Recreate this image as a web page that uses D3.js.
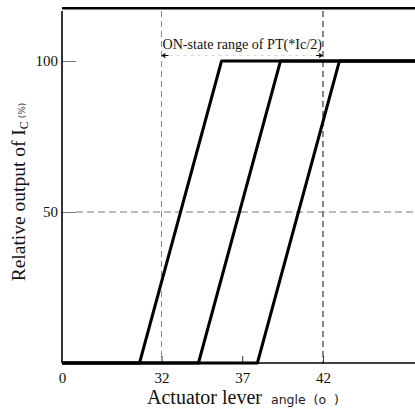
<!DOCTYPE html>
<html><head><meta charset="utf-8">
<script src="https://cdn.jsdelivr.net/npm/d3@7/dist/d3.min.js"></script>
<style>
html,body{margin:0;padding:0;background:#fff;}
svg{display:block;}
text{font-family:"Liberation Serif","Times New Roman",serif;fill:#111;}
</style></head>
<body>
<script>
// ---- data ----
const xDomain = [25.84, 47.7];          // broken axis: left end labelled "0"
const yDomain = [0, 100];
const xTickValues = [25.84, 32, 37, 42];
const xTickLabels = ["0", "32", "37", "42"];
const yTickValues = [50, 100];
const yTickLabels = ["50", "100"];
const refAngles = [32, 42];             // dashed vertical lines
const refOutput = 50;                   // dashed horizontal line

const angleA = [25.84, 30.64, 35.72, 47.7];
const outputA = [0, 0, 100, 100];
const angleB = [25.84, 34.29, 39.37, 47.7];
const outputB = [0, 0, 100, 100];
const angleC = [25.84, 37.94, 43.02, 47.7];
const outputC = [0, 0, 100, 100];

const rangeLabel = "ON-state range of PT(*Ic/2)";

// ---- layout ----
const W = 415, H = 409;
const svg = d3.select("body").append("svg").attr("width", W).attr("height", H);
svg.append("rect").attr("width", W).attr("height", H).attr("fill", "#fff");

const x = d3.scaleLinear().domain(xDomain).range([62, 415]);
const y = d3.scaleLinear().domain(yDomain).range([363, 61]);

// top frame line
svg.append("line").attr("x1", 62).attr("x2", 415).attr("y1", 8.3).attr("y2", 8.3)
  .attr("stroke", "#000").attr("stroke-width", 2.5);

// dashed reference lines
refAngles.forEach((a, i) => {
  svg.append("line").attr("x1", x(a)).attr("x2", x(a)).attr("y1", 11).attr("y2", y(0))
    .attr("stroke", i === 0 ? "#8a8a8a" : "#555").attr("stroke-width", i === 0 ? 1 : 1.4)
    .attr("stroke-dasharray", "6,4");
});
svg.append("line").attr("x1", 76).attr("x2", 415).attr("y1", y(refOutput)).attr("y2", y(refOutput))
  .attr("stroke", "#777").attr("stroke-width", 1).attr("stroke-dasharray", "7,4");

// y axis
const gy = svg.append("g").attr("transform", "translate(62,0)")
  .call(d3.axisLeft(y).tickValues(yTickValues).tickFormat((d, i) => yTickLabels[i])
    .tickSizeInner(-14).tickSizeOuter(0).tickPadding(4));
gy.select(".domain").remove();
gy.selectAll(".tick line").attr("stroke", "#777").attr("stroke-width", 1);
gy.selectAll(".tick text").attr("font-family", "Liberation Serif").attr("font-size", 15).attr("fill", "#111");
svg.append("line").attr("x1", 62).attr("x2", 62).attr("y1", 11).attr("y2", y(0))
  .attr("stroke", "#000").attr("stroke-width", 1.6);

// x axis
const gx = svg.append("g").attr("transform", `translate(0,${y(0)})`)
  .call(d3.axisBottom(x).tickValues(xTickValues).tickFormat((d, i) => xTickLabels[i])
    .tickSizeInner(-7).tickSizeOuter(0).tickPadding(9));
gx.select(".domain").remove();
gx.selectAll(".tick line").attr("stroke", "#333").attr("stroke-width", 1);
gx.selectAll(".tick text").attr("font-family", "Liberation Serif").attr("font-size", 15).attr("fill", "#111");
svg.append("line").attr("x1", 62).attr("x2", 415).attr("y1", y(0)).attr("y2", y(0))
  .attr("stroke", "#000").attr("stroke-width", 1.6);

// curves
const line = d3.line().x(d => x(d[0])).y(d => y(d[1])).curve(d3.curveLinear);
[[angleA, outputA], [angleB, outputB], [angleC, outputC]].forEach(([a, o]) => {
  svg.append("path").datum(a.map((v, i) => [v, o[i]]))
    .attr("d", line).attr("fill", "none").attr("stroke", "#000")
    .attr("stroke-width", 3).attr("stroke-linejoin", "round");
});

// range annotation
const xl = x(refAngles[0]), xr = x(refAngles[1]);
svg.append("text").attr("x", (xl + xr) / 2).attr("y", 49).attr("text-anchor", "middle")
  .attr("font-size", 15).attr("textLength", xr - xl - 2).attr("lengthAdjust", "spacingAndGlyphs")
  .text(rangeLabel);
svg.append("line").attr("x1", xl + 8).attr("x2", xr - 8).attr("y1", 55.5).attr("y2", 55.5)
  .attr("stroke", "#ccc").attr("stroke-width", 0.8).attr("stroke-dasharray", "3,4");
svg.append("path").attr("d", `M${xl + 7},55.5H${xl + 1}M${xl + 4},53.5L${xl + 1},55.5L${xl + 4},57.5`)
  .attr("stroke", "#000").attr("stroke-width", 1.2).attr("fill", "none");
svg.append("path").attr("d", `M${xr - 7},55.5H${xr - 1}M${xr - 4},53.5L${xr - 1},55.5L${xr - 4},57.5`)
  .attr("stroke", "#000").attr("stroke-width", 1.2).attr("fill", "none");

// axis titles
const xt = svg.append("text").attr("x", 243).attr("y", 404).attr("text-anchor", "middle")
  .style("white-space", "pre");
xt.append("tspan").attr("font-size", 20).text("Actuator lever ");
xt.append("tspan").attr("font-family", "DejaVu Sans").attr("font-size", 12.5).attr("fill", "#222").text(" angle  (o  )");

const yt = svg.append("text").attr("transform", "translate(25,192) rotate(-90)")
  .attr("text-anchor", "middle").style("white-space", "pre");
yt.append("tspan").attr("font-size", 19.5).text("Relative output of I");
yt.append("tspan").attr("font-size", 12).attr("dy", 3).text("C");
yt.append("tspan").attr("font-size", 9).attr("dy", -3).attr("font-family", "DejaVu Sans").attr("fill", "#444").text(" (%)");
</script>
</body></html>
